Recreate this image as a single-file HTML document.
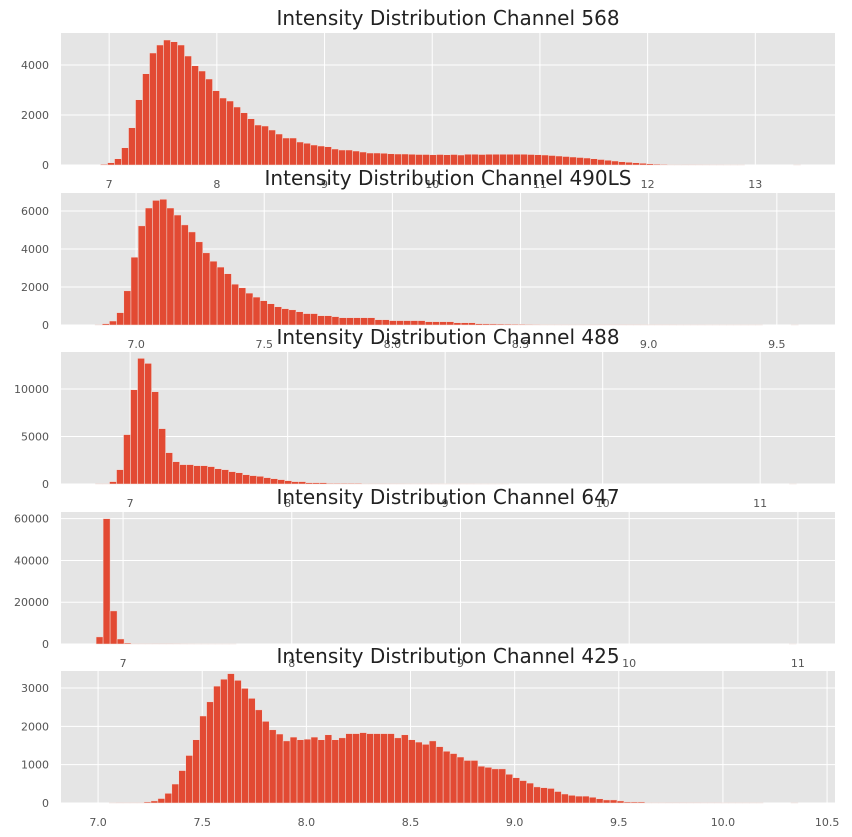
<!DOCTYPE html>
<html><head><meta charset="utf-8">
<style>
html,body{margin:0;padding:0;background:#fff;}
svg{display:block;font-family:"DejaVu Sans","Liberation Sans",sans-serif;}
</style></head>
<body>
<svg id="fig" width="852" height="837" viewBox="0 0 852 837"></svg>
<script>
const titles = ["Intensity Distribution Channel 568","Intensity Distribution Channel 490LS","Intensity Distribution Channel 488","Intensity Distribution Channel 647","Intensity Distribution Channel 425"];
const binStarts = [6.92, 6.84, 6.78, 6.84, 7.02];
const binWidths = [0.065, 0.028, 0.0445, 0.0415, 0.0334];
const counts568 = [30,90,250,690,1490,2610,3650,4480,4800,5000,4930,4800,4360,3970,3760,3440,2970,2680,2560,2320,2090,1850,1600,1560,1400,1240,1080,1080,920,870,800,760,730,640,600,600,560,520,480,480,470,450,440,440,430,420,420,410,420,410,420,400,430,430,420,
430,430,430,430,430,430,420,410,400,380,360,340,320,300,280,250,220,190,160,130,110,90,70,50,35,25,15,10,8,5,4,3,2,2,1,1,1,0,0,0,0,0,0,0,1];
const counts490 = [20,70,210,650,1800,3570,5220,6160,6560,6620,6160,5790,5270,4900,4380,3800,3360,3050,2700,2150,1960,1680,1470,1280,1120,960,860,800,700,600,600,490,490,440,385,385,385,385,385,280,280,230,230,230,230,230,175,175,175,175,120,120,120,70,
60,55,50,45,40,35,30,28,25,22,20,18,15,14,12,10,9,8,7,6,5,5,4,4,3,3,3,2,2,2,2,1,1,1,1,1,1,1,1,0,0,0,0,1];
const counts488 = [35,35,250,1510,5200,9930,13230,12700,9720,5830,3300,2350,2040,2040,1930,1930,1830,1610,1510,1300,1190,980,880,810,670,560,460,350,250,250,140,140,140,70,70,70,70,70,
30,20,20,15,10,10,8,5,5,5,4,3,3,2,2,2,1,1,1,1,1,0,0,0,0,0,0,0,0,0,0,0,0,0,0,0,0,0,0,0,0,0,0,0,0,0,0,0,0,0,0,0,0,0,0,0,0,0,0,0,0,1];
const counts647 = [3400,60000,15840,2400,480,150,150,120,100,100,80,40,20,10,5,3,2,1,1,1,0,0,0,0,0,0,0,0,0,0,0,0,0,0,0,0,0,0,0,0,0,0,0,0,0,0,0,0,0,0,0,0,0,0,0,0,0,0,0,0,0,0,0,0,0,0,0,0,0,0,0,0,0,0,0,0,0,0,0,0,0,0,0,0,0,0,0,0,0,0,0,0,0,0,0,0,0,0,0,1];
const counts425 = [0,1,3,10,10,10,27,54,117,252,495,846,1240,1650,2270,2640,3050,3230,3375,3200,2990,2730,2430,2130,1910,1800,1620,1720,1650,1665,1720,1650,1780,1650,1700,1810,1810,1836,1810,1810,1810,1810,1700,1780,1650,1590,1530,1620,1470,1350,1290,1200,1110,1110,960,930,890,890,750,660,585,520,420,400,380,300,235,200,180,180,150,110,80,80,54,27,27,27,10,10,10,
5,5,4,3,3,2,2,2,1,1,1,1,1,1,0,0,0,0,1];
const xTicks = [[7,8,9,10,11,12,13],[7.0,7.5,8.0,8.5,9.0,9.5],[7,8,9,10,11],[7,8,9,10,11],[7.0,7.5,8.0,8.5,9.0,9.5,10.0,10.5]];
const xTickLabels = [["7","8","9","10","11","12","13"],["7.0","7.5","8.0","8.5","9.0","9.5"],["7","8","9","10","11"],["7","8","9","10","11"],["7.0","7.5","8.0","8.5","9.0","9.5","10.0","10.5"]];
const yTicks = [[0,2000,4000],[0,2000,4000,6000],[0,5000,10000],[0,20000,40000,60000],[0,1000,2000,3000]];
const xLims = [[6.553,13.74],[6.707,9.727],[6.561,11.475],[6.632,11.22],[6.822,10.538]];
const yMaxes = [5280,6950,13900,63200,3444];
const allCounts = [counts568, counts490, counts488, counts647, counts425];

const NS = "http://www.w3.org/2000/svg";
const svg = document.getElementById("fig");
function mk(tag, attrs, parent){const e=document.createElementNS(NS,tag);for(const k in attrs)e.setAttribute(k,attrs[k]);(parent||svg).appendChild(e);return e;}
const L=61, R=835, axTops=[33,193,352,512,671], H=132;
const slugs=["568","490ls","488","647","425"];

for(let p=0;p<5;p++){
  const top=axTops[p], bot=top+H;
  const [x0,x1]=xLims[p], yMax=yMaxes[p];
  const sx=v=>L+(v-x0)/(x1-x0)*(R-L);
  const sy=v=>bot-v/yMax*H;
  const g=mk("g",{});
  
  
  const bg=mk("rect",{x:L,y:top,width:R-L,height:H,fill:"#E5E5E5"},g);
  
  
  xTicks[p].forEach((t,i)=>{
    const x=sx(t);
    const gl=mk("line",{x1:x,x2:x,y1:top,y2:bot,stroke:"#fff","stroke-width":1},g);
    
    
    const tl=mk("text",{x:x,y:bot+23,"text-anchor":"middle","font-size":11,fill:"#555"},g);
    tl.textContent=xTickLabels[p][i];
    
    
  });
  yTicks[p].forEach(t=>{
    const y=sy(t);
    const gl=mk("line",{x1:L,x2:R,y1:y,y2:y,stroke:"#fff","stroke-width":1},g);
    
    
    const tl=mk("text",{x:49,y:y+4,"text-anchor":"end","font-size":11,fill:"#555"},g);
    tl.textContent=String(t);
    
    
  });
  const c=allCounts[p], s=binStarts[p], w=binWidths[p];
  c.forEach((v,i)=>{
    if(v<=0)return;
    const xa=sx(s+i*w), xb=sx(s+(i+1)*w);
    const y=sy(v);
    const b=mk("rect",{x:xa,y:y,width:Math.max(xb-xa,0.5),height:bot-y,fill:"#E24A33",stroke:"#F0E0DC","stroke-width":0.5},g);
    
    
  });
  const tt=mk("text",{x:(L+R)/2,y:top-8,"text-anchor":"middle","font-size":20,fill:"#222"},g);
  tt.textContent=titles[p];
  
  
}
</script>
</body></html>
